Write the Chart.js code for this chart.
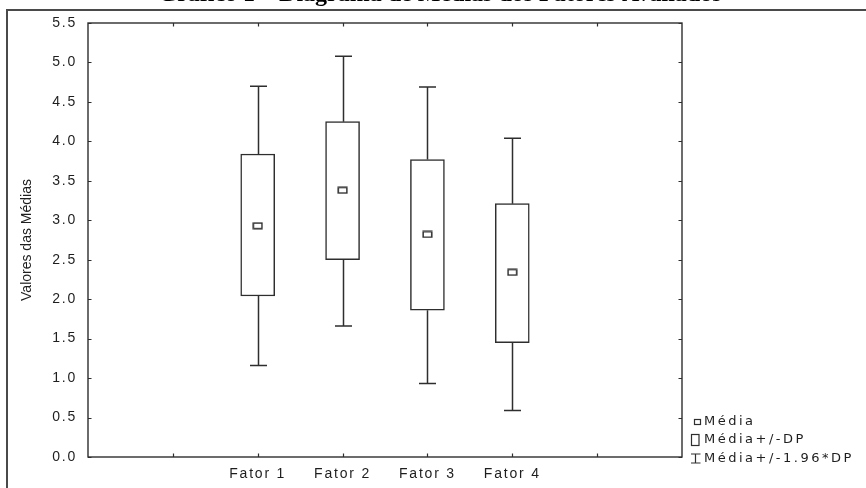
<!DOCTYPE html>
<html><head><meta charset="utf-8">
<script src="https://cdn.jsdelivr.net/npm/chart.js@4.4.1/dist/chart.umd.min.js"></script>
<style>html,body{margin:0;padding:0;background:#fff;overflow:hidden}canvas{display:block}</style>
</head><body>
<canvas id="c" width="866" height="488"></canvas>
<script>
// ---- data ----
const titleText = 'Gráfico 1 – Diagrama de Médias dos Fatores Avaliados';
const yAxisTitle = 'Valores das Médias';
const xSlots = ['', '', 'Fator 1', 'Fator 2', 'Fator 3', 'Fator 4', '', ''];
const categories = ['Fator 1', 'Fator 2', 'Fator 3', 'Fator 4'];
const means  = [2.93, 3.38, 2.82, 2.34];
const sdLow  = [2.04, 2.50, 1.86, 1.45];
const sdHigh = [3.84, 4.25, 3.77, 3.21];
const ciLow  = [1.16, 1.66, 0.93, 0.59];
const ciHigh = [4.70, 5.08, 4.69, 4.04];
const yMin = 0, yMax = 5.5, yStep = 0.5;
const legendLabels = ['Média', 'Média+/-DP', 'Média+/-1.96*DP'];

const INK = '#2e2e2e';
const TEXT = '#1e1e1e';
const SANS = '"Liberation Sans", Arial, sans-serif';

// mean marker (small open rectangle)
const marker = document.createElement('canvas');
marker.width = 11; marker.height = 8;
(function(){
  const m = marker.getContext('2d');
  m.fillStyle = '#fff'; m.fillRect(0,0,11,8);
  m.strokeStyle = INK; m.lineWidth = 1.5;
  m.strokeRect(1.2,1.2,8.6,5.6);
})();

const decor = {
  id: 'decor',
  beforeDraw(chart){
    const ctx = chart.ctx;
    ctx.save(); ctx.fillStyle = '#fff'; ctx.fillRect(0,0,chart.width,chart.height); ctx.restore();
    ctx.letterSpacing = '1.8px';
  },
  afterDatasetsDraw(chart){
    const ctx = chart.ctx, y = chart.scales.y;
    const meta = chart.getDatasetMeta(1);
    ctx.save();
    ctx.strokeStyle = INK; ctx.lineWidth = 1.5;
    meta.data.forEach((bar, i) => {
      const x = Math.round(bar.x) + 0.5;
      const cap = 8.5;
      const segs = [[sdHigh[i], ciHigh[i]], [sdLow[i], ciLow[i]]];
      segs.forEach(([from, to]) => {
        const y0 = y.getPixelForValue(from), y1 = y.getPixelForValue(to);
        ctx.beginPath();
        ctx.moveTo(x, y0); ctx.lineTo(x, y1);
        ctx.moveTo(x - cap, y1); ctx.lineTo(x + cap, y1);
        ctx.stroke();
      });
    });
    ctx.restore();
  },
  afterDraw(chart){
    const ctx = chart.ctx, a = chart.chartArea, xs = chart.scales.x, ys = chart.scales.y;
    ctx.save();
    ctx.letterSpacing = '0px';
    // outer frame
    ctx.strokeStyle = '#4a4a4a'; ctx.lineWidth = 2;
    ctx.strokeRect(7, 10, chart.width + 20, chart.height + 20);
    // plot frame
    ctx.strokeStyle = INK; ctx.lineWidth = 1.4;
    ctx.strokeRect(a.left, a.top, a.right - a.left, a.bottom - a.top);
    // inward ticks
    ctx.lineWidth = 1.2;
    ctx.beginPath();
    ys.ticks.forEach(t => {
      const py = Math.round(ys.getPixelForValue(t.value)) + 0.5;
      ctx.moveTo(a.left, py); ctx.lineTo(a.left + 3.5, py);
      ctx.moveTo(a.right, py); ctx.lineTo(a.right - 3.5, py);
    });
    xs.ticks.forEach((t, i) => {
      if (i === 0 || i === xs.ticks.length - 1) return;
      const px = Math.round(xs.getPixelForValue(i)) + 0.5;
      ctx.moveTo(px, a.bottom); ctx.lineTo(px, a.bottom - 3.5);
      ctx.moveTo(px, a.top); ctx.lineTo(px, a.top + 3.5);
    });
    ctx.stroke();
    // title (clipped at top as in the reference)
    ctx.fillStyle = '#000';
    ctx.font = 'bold 24px "Liberation Serif", "Times New Roman", serif';
    ctx.textAlign = 'center'; ctx.textBaseline = 'alphabetic';
    ctx.fillText(titleText, 440, 1);
    // y axis title
    ctx.save();
    ctx.translate(27, (a.top + a.bottom) / 2);
    ctx.rotate(-Math.PI / 2);
    ctx.font = '14px ' + SANS; ctx.fillStyle = TEXT;
    ctx.textAlign = 'center'; ctx.textBaseline = 'middle';
    ctx.fillText(yAxisTitle, 0, 0);
    ctx.restore();
    // legend
    const lx = a.right + 9, tx = a.right + 22;
    const rows = [a.bottom - 35, a.bottom - 17, a.bottom + 1.5];
    ctx.strokeStyle = INK; ctx.lineWidth = 1.2;
    ctx.strokeRect(lx + 3.5, rows[0] - 2.5, 6, 5);
    ctx.strokeRect(lx + 0.5, rows[1] - 5.5, 7.5, 11);
    ctx.beginPath();
    ctx.moveTo(lx, rows[2] - 4.5); ctx.lineTo(lx + 9.5, rows[2] - 4.5);
    ctx.moveTo(lx + 4.5, rows[2] - 4.5); ctx.lineTo(lx + 4.5, rows[2] + 4.5);
    ctx.moveTo(lx, rows[2] + 4.5); ctx.lineTo(lx + 9.5, rows[2] + 4.5);
    ctx.stroke();
    ctx.letterSpacing = '2.5px';
    ctx.font = '13px "DejaVu Sans", Verdana, sans-serif'; ctx.fillStyle = TEXT;
    ctx.textAlign = 'left'; ctx.textBaseline = 'middle';
    legendLabels.forEach((s, i) => ctx.fillText(s, tx, rows[i]));
    ctx.restore();
  }
};

new Chart(document.getElementById('c'), {
  type: 'bar',
  data: {
    labels: xSlots,
    datasets: [
      { type: 'line', label: legendLabels[0], order: 0, showLine: false,
        data: categories.map((c, i) => ({ x: c, y: means[i] })),
        pointStyle: marker, pointRadius: 5, pointHoverRadius: 5 },
      { type: 'bar', label: legendLabels[1], order: 1,
        data: categories.map((c, i) => ({ x: c, y: [sdLow[i], sdHigh[i]] })),
        backgroundColor: '#fff', borderColor: INK, borderWidth: 1.5,
        borderSkipped: false, barThickness: 34 }
    ]
  },
  options: {
    responsive: false, animation: false, devicePixelRatio: 1,
    layout: { padding: { top: 23, right: 184, left: 0, bottom: 0 } },
    plugins: { legend: { display: false }, tooltip: { enabled: false } },
    scales: {
      x: {
        type: 'category', offset: false,
        grid: { display: false, drawTicks: false }, border: { display: false },
        ticks: { autoSkip: false, maxRotation: 0, padding: 9, color: TEXT,
                 font: { family: SANS, size: 14 } },
        afterFit(s) { s.height = 31; }
      },
      y: {
        min: yMin, max: yMax,
        grid: { display: false, drawTicks: false }, border: { display: false },
        ticks: { stepSize: yStep, padding: 11, color: TEXT,
                 font: { family: SANS, size: 14 },
                 callback: v => Number(v).toFixed(1) },
        afterFit(s) { s.width = 88; }
      }
    }
  },
  plugins: [decor]
});
</script>
</body></html>
